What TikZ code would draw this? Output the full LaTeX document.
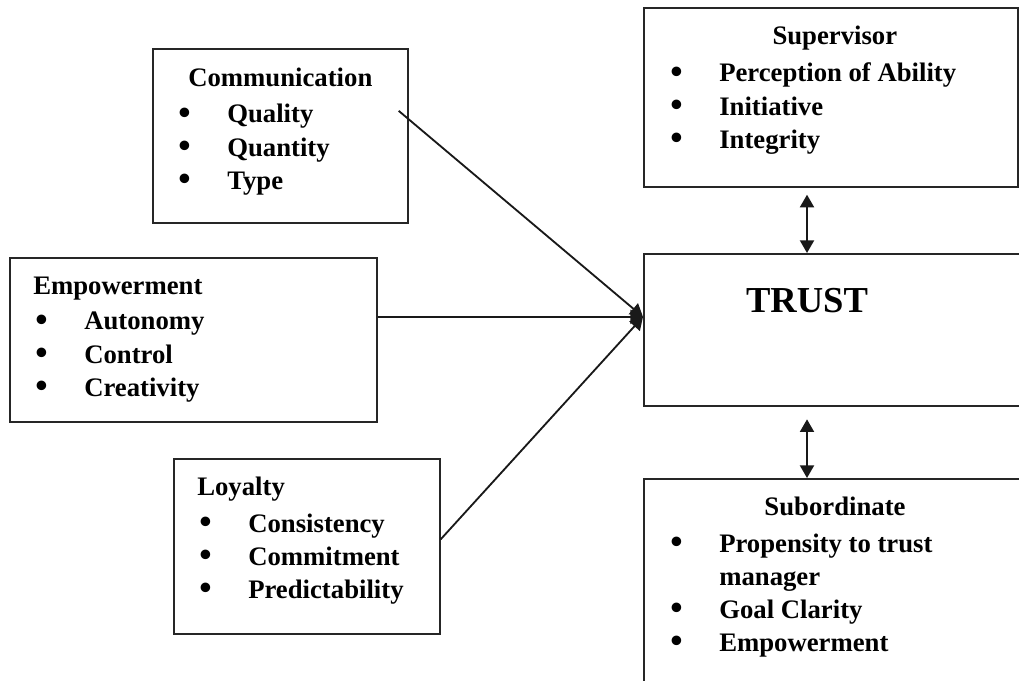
\documentclass[tikz,border=0pt]{standalone}
\usepackage{fontspec}
\setmainfont{Liberation Serif}
\usetikzlibrary{positioning,arrows.meta,calc}
\newlength\pxl
\setlength\pxl{0.025cm}
\newcommand\blt{\makebox[49\pxl][l]{\smash{\raisebox{-1.2pt}{\fontsize{25}{25}\selectfont\textbullet}}}}

\begin{document}
\begin{tikzpicture}[x=0.025cm, y=-0.025cm,
  box/.style={rectangle, draw=black!85, line width=1.2pt, fill=white,
              anchor=north west, inner sep=0pt},
  hd/.style={font=\fontsize{19}{22}\selectfont\bfseries, inner sep=0pt},
  lst/.style={font=\fontsize{19}{23.5}\selectfont\bfseries, inner sep=0pt,
              anchor=base west},
  ar/.style={-{Triangle[length=9pt,width=10pt]}, line width=1.3pt, black!90},
  dar/.style={{Triangle[length=9pt,width=10pt]}-{Triangle[length=9pt,width=10pt]},
              line width=1.3pt, black!90},
]
\useasboundingbox (0,0) rectangle (1019,681);
\clip (0,0) rectangle (1019,681);
\fill[white] (0,0) rectangle (1019,681);

% left side factors
\node[box, minimum width=255*\pxl, minimum height=174*\pxl] (comm) at (152,48) {};
\node[hd, anchor=base] (commhd) at ([shift={(0,39)}]comm.north) {Communication};
\node[lst] (commlst) at ([shift={(26,75)}]comm.north west)
    {\begin{tabular}[t]{@{}l@{}}\blt Quality\\\blt Quantity\\\blt Type\end{tabular}};

\node[box, minimum width=367*\pxl, minimum height=164*\pxl] (emp) at (9,257) {};
\node[hd, anchor=base west] (emphd) at ([shift={(24,38)}]emp.north west) {Empowerment};
\node[lst] (emplst) at ([shift={(26,73)}]emp.north west)
    {\begin{tabular}[t]{@{}l@{}}\blt Autonomy\\\blt Control\\\blt Creativity\end{tabular}};

\node[box, minimum width=266*\pxl, minimum height=175*\pxl] (loy) at (173,458) {};
\node[hd, anchor=base west] (loyhd) at ([shift={(24,37)}]loy.north west) {Loyalty};
\node[lst] (loylst) at ([shift={(26,74)}]loy.north west)
    {\begin{tabular}[t]{@{}l@{}}\blt Consistency\\\blt Commitment\\\blt Predictability\end{tabular}};

% right side
\node[box, minimum width=374*\pxl, minimum height=179*\pxl] (sup) at (643,7) {};
\node[hd, anchor=base] (suphd) at ([shift={(4,38)}]sup.north) {Supervisor};
\node[lst] (suplst) at ([shift={(27,75)}]sup.north west)
    {\begin{tabular}[t]{@{}l@{}}\blt Perception of Ability\\\blt Initiative\\\blt Integrity\end{tabular}};

\node[box, minimum width=390*\pxl, minimum height=152*\pxl] (trust) at (643,253) {};
\node[anchor=base, inner sep=0pt, font=\fontsize{26}{30}\selectfont\bfseries] (trustlbl)
    at ([shift={(164,60)}]trust.north west) {TRUST};

\node[box, minimum width=390*\pxl, minimum height=220*\pxl] (sub) at (643,478) {};
\node[hd, anchor=base] (subhd) at ([shift={(192,37)}]sub.north west) {Subordinate};
\node[lst] (sublst) at ([shift={(27,74)}]sub.north west)
    {\begin{tabular}[t]{@{}l@{}}\blt Propensity to trust\\\hspace*{49\pxl}manager\\
     \blt Goal Clarity\\\blt Empowerment\end{tabular}};

% connectors
\coordinate (hub) at ([shift={(0,-13)}]trust.west);
\draw[ar] ([shift={(-10,-25)}]comm.east) -- (hub);
\draw[ar] ([shift={(0,-23)}]emp.east) -- (hub);
\draw[ar] ([shift={(0,-7)}]loy.east) -- (hub);

\draw[dar, shorten <=5pt] (sup.south -| trustlbl) -- (trust.north -| trustlbl);
\draw[dar, shorten <=9pt] (trust.south -| trustlbl) -- (sub.north -| trustlbl);
\end{tikzpicture}
\end{document}
